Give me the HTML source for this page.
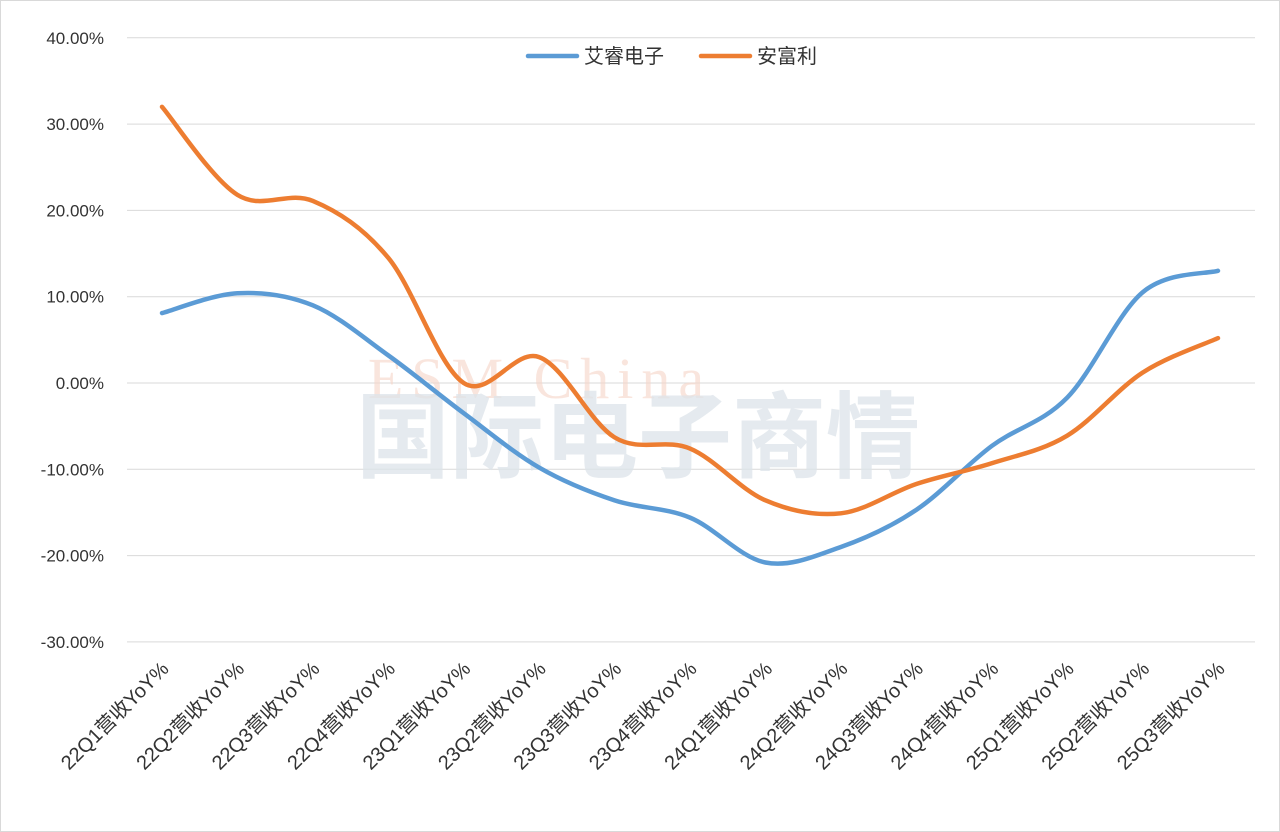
<!DOCTYPE html>
<html><head><meta charset="utf-8">
<style>
html,body{margin:0;padding:0;background:#fff;}
svg{display:block;font-family:"Liberation Sans","Noto Sans CJK SC",sans-serif;}
</style></head>
<body>
<svg id="chart" width="1280" height="832" viewBox="0 0 1280 832">
<rect x="0.5" y="0.5" width="1279" height="831" fill="#fff" stroke="#d9d9d9"/>
<g id="grid"></g>
<g id="yticks"></g>
<g>
<text x="540" y="398" text-anchor="middle" font-family="Liberation Serif,serif" font-size="58" fill="#f6d5c8" opacity="0.6" letter-spacing="8">ESM China</text>
<text x="638" y="470" text-anchor="middle" font-family="Noto Sans CJK SC,sans-serif" font-weight="bold" font-size="94" fill="#dde4ea" opacity="0.75">国际电子商情</text>
</g>
<g id="series"></g>
<g id="xticks"></g>
<g>
<g>
<line x1="528" y1="56" x2="577" y2="56" stroke="#5b9bd5" stroke-width="4.5" stroke-linecap="round"/>
<text x="584" y="63" font-size="20" fill="#333">艾睿电子</text></g>
<g>
<line x1="701" y1="56" x2="750" y2="56" stroke="#ed7d31" stroke-width="4.5" stroke-linecap="round"/>
<text x="757" y="63" font-size="20" fill="#333">安富利</text></g>
</g>
</svg>
<script>
const categories=["22Q1营收YoY%","22Q2营收YoY%","22Q3营收YoY%","22Q4营收YoY%","23Q1营收YoY%","23Q2营收YoY%","23Q3营收YoY%","23Q4营收YoY%","24Q1营收YoY%","24Q2营收YoY%","24Q3营收YoY%","24Q4营收YoY%","25Q1营收YoY%","25Q2营收YoY%","25Q3营收YoY%"];
const arrowValues=[8.1,10.4,9.0,3.2,-3.5,-9.8,-13.6,-15.6,-20.8,-19.0,-14.7,-7.3,-1.7,10.5,13.0];
const avnetValues=[32.0,21.8,21.1,14.5,0.0,3.0,-6.3,-7.6,-13.6,-15.1,-11.7,-9.3,-6.1,1.2,5.2];
const yTicks=[40,30,20,10,0,-10,-20,-30];
const NS="http://www.w3.org/2000/svg";
const y=v=>383-v*8.63;
const x=i=>162+i*(1056/14);
function mk(t,a,p){const e=document.createElementNS(NS,t);for(const k in a)e.setAttribute(k,a[k]);p.appendChild(e);return e;}
const grid=document.getElementById('grid'),yt=document.getElementById('yticks');
yTicks.forEach(v=>{
 const l=mk('line',{x1:127,x2:1255,y1:y(v),y2:y(v),stroke:'#d9d9d9','stroke-width':1},grid);
 
 
 const t=mk('text',{x:104,y:y(v)+6,'text-anchor':'end','font-size':17,fill:'#333'},yt);
 t.textContent=v.toFixed(2)+'%';
 
 
});
function path(vals){
 const p=vals.map((v,i)=>[x(i),y(v)]);
 let d='M'+p[0][0]+','+p[0][1];
 for(let i=0;i<p.length-1;i++){
  const p0=p[i-1]||p[i],p1=p[i],p2=p[i+1],p3=p[i+2]||p2;
  const c1=[p1[0]+(p2[0]-p0[0])/6,p1[1]+(p2[1]-p0[1])/6];
  const c2=[p2[0]-(p3[0]-p1[0])/6,p2[1]-(p3[1]-p1[1])/6];
  d+=` C${c1[0]},${c1[1]} ${c2[0]},${c2[1]} ${p2[0]},${p2[1]}`;
 }
 return d;
}
const sg=document.getElementById('series');
const s1=mk('path',{d:path(arrowValues),fill:'none',stroke:'#5b9bd5','stroke-width':4.5,'stroke-linecap':'round'},sg);


const s2=mk('path',{d:path(avnetValues),fill:'none',stroke:'#ed7d31','stroke-width':4.5,'stroke-linecap':'round'},sg);


const xt=document.getElementById('xticks');
categories.forEach((c,i)=>{
 const t=mk('text',{x:0,y:0,'text-anchor':'end','font-size':20,fill:'#333',transform:`translate(${x(i)+8},${670}) rotate(-45)`},xt);
 t.textContent=c;
 
 
});
</script>
</body></html>
